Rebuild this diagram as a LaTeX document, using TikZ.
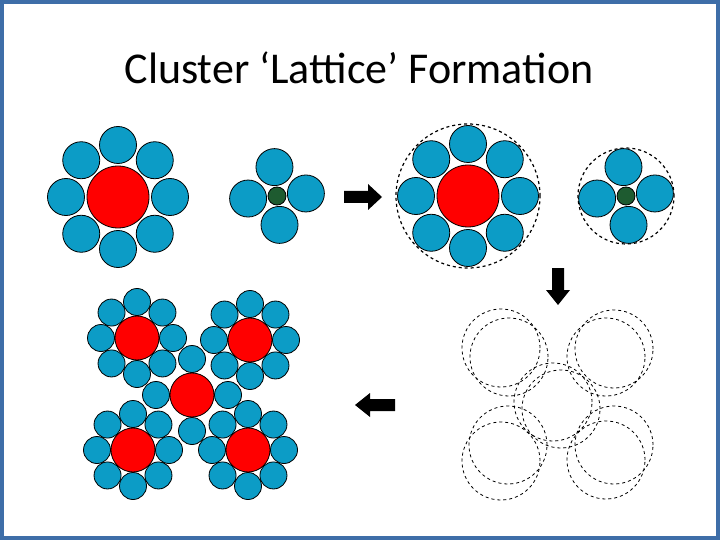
\documentclass[tikz,border=0pt]{standalone}
\usepackage{fontspec}
\setmainfont{Carlito}
\usetikzlibrary{calc}
\definecolor{bl}{HTML}{0C9CC6}
\definecolor{rd}{HTML}{FF0000}
\definecolor{gr}{HTML}{1E5B30}
\definecolor{fr}{HTML}{3E6EA8}
\tikzset{
 blue/.style={circle,draw=black,fill=bl,line width=0.8pt,inner sep=0pt,minimum size=#1},
 red/.style={circle,draw=black,fill=rd,line width=0.8pt,inner sep=0pt,minimum size=#1},
 grn/.style={circle,draw=black,fill=gr,line width=0.8pt,inner sep=0pt,minimum size=#1},
 dring/.style={circle,draw=black,dashed,line width=1.2pt,inner sep=0pt,minimum size=#1},
 thin ring/.style={circle,draw=black,dashed,line width=0.8pt,inner sep=0pt,minimum size=#1},
 blockarrow/.style={fill=black}
}
\begin{document}
\begin{tikzpicture}[x=1pt,y=-1pt]
\fill[white] (0,0) rectangle (720,540);
\draw[fr,line width=4pt] (2,2) rectangle (718,538);
\node (title) at (359,68) {\fontsize{44}{50}\selectfont Cluster ‘Lattice’ Formation};
% top-left big cluster
\foreach \a [count=\i] in {90,45,...,-225}
  \node[blue=37pt] (a\i) at ($(118,197)+(\a:52 and -52)$) {};
\node[red=62pt] (ac) at (118,197) {};
% small cluster
\foreach \a [count=\i] in {95,5,-85,-175}
  \node[blue=37pt] (b\i) at ($(277,196)+(\a:29 and -29)$) {};
\node[grn=18pt] (bc) at (277,196) {};
% right arrow
\fill[blockarrow] (344,191) -- (368,191) -- (368,184) -- (382,197) -- (368,210) -- (368,203) -- (344,203) -- cycle;
% top-right clusters with dashed rings
\node[dring=144pt] (ring1) at (468,196) {};
\foreach \a [count=\i] in {90,45,...,-225}
  \node[blue=37pt] (c\i) at ($(468,196)+(\a:52 and -52)$) {};
\node[red=62pt] (cc) at (468,196) {};
\node[dring=96pt] (ring2) at (626,196) {};
\foreach \a [count=\i] in {95,5,-85,-175}
  \node[blue=37pt] (d\i) at ($(626,196)+(\a:29 and -29)$) {};
\node[grn=18pt] (dc) at (626,196) {};
% down arrow
\fill[blockarrow] (552,268) -- (552,290) -- (546,290) -- (558,305) -- (570,290) -- (564,290) -- (564,268) -- cycle;
% dashed lattice
\foreach \p/\q [count=\i] in {{(501,348)}/{(509,357)},{(614,349)}/{(606,357)},{(553,402)}/{(561,409)},{(501,461)}/{(508,445)},{(606,460)}/{(614,445)}}{
  \node[thin ring=78pt] (e\i a) at \p {};
  \node[thin ring=78pt] (e\i b) at \q {};
}
% left arrow
\fill[blockarrow] (395,399) -- (370,399) -- (370,393) -- (355,405) -- (370,417) -- (370,411) -- (395,411) -- cycle;
% solid lattice
\foreach \x/\y [count=\k] in {137/338,250/340,133/450,248/450}{
  \foreach \a [count=\i] in {90,45,...,-225}
    \node[blue=27pt] (f\k-\i) at ($(\x,\y)+(\a:36 and -36)$) {};
}
\foreach \a [count=\i] in {90,0,-90,180}
  \node[blue=27pt] (g\i) at ($(192,395)+(\a:36 and -36)$) {};
\foreach \x/\y [count=\k] in {137/338,250/340,192/395,133/450,248/450}
  \node[red=44pt] (fc\k) at (\x,\y) {};
\end{tikzpicture}
\end{document}
